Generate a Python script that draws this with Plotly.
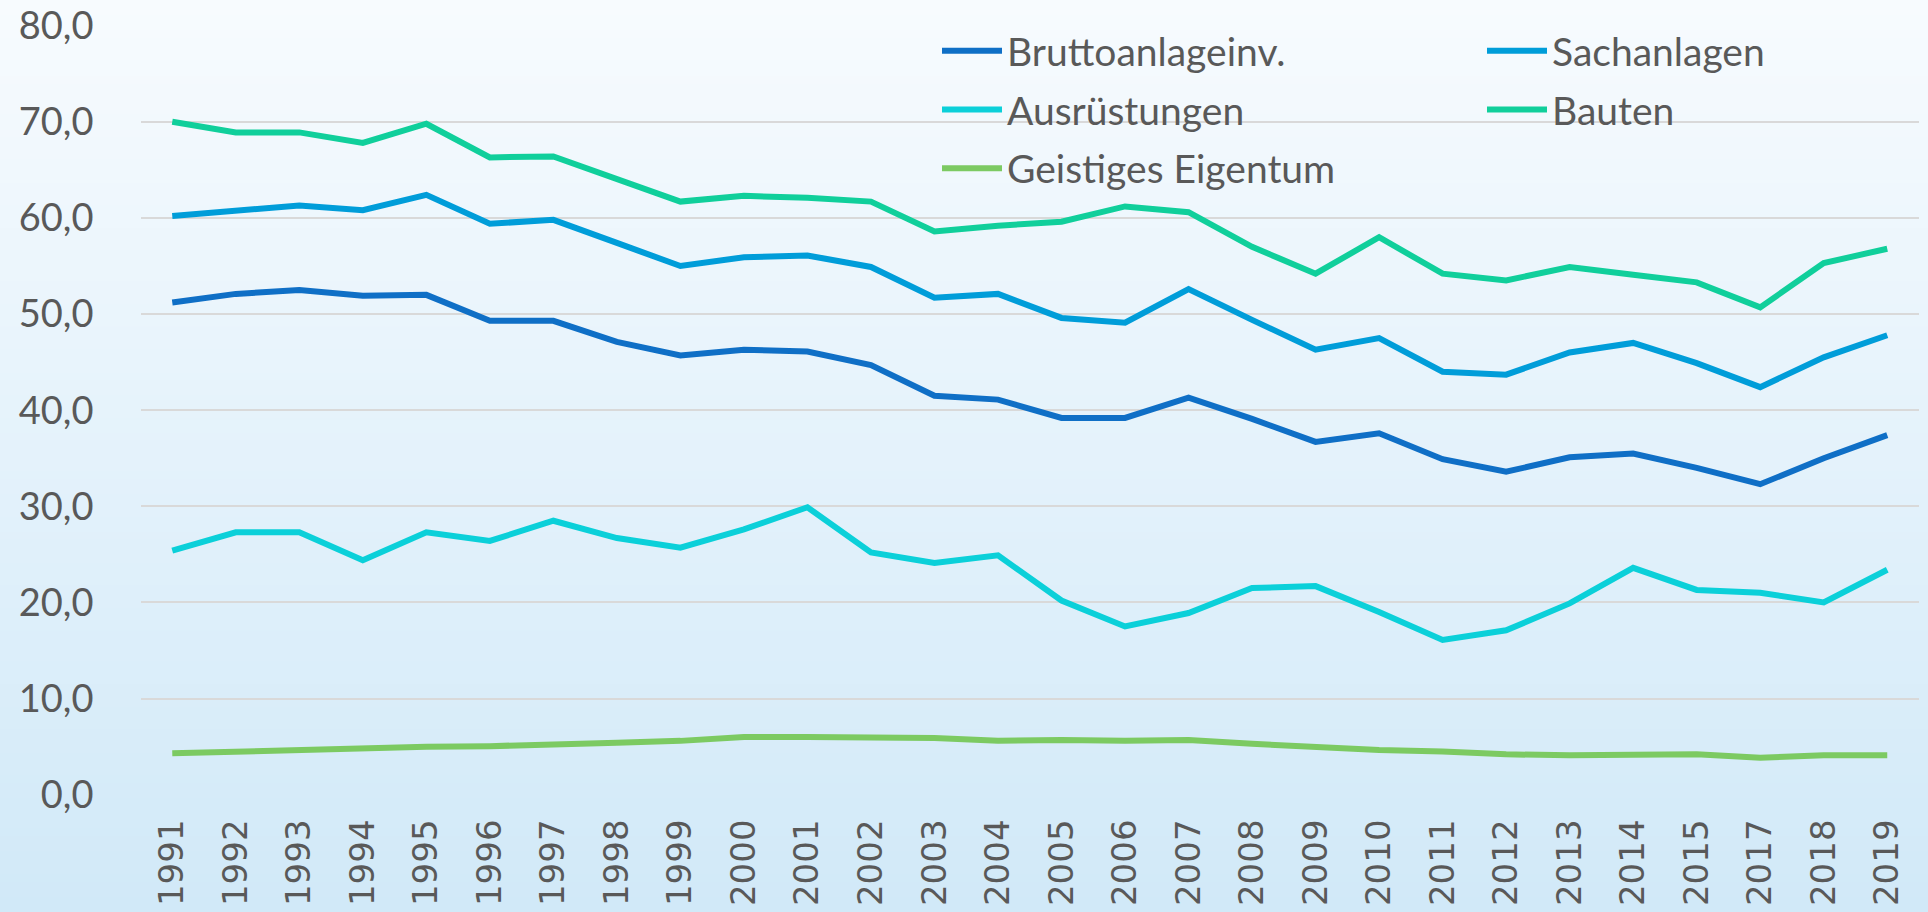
import plotly.graph_objects as go

years = ["1991", "1992", "1993", "1994", "1995", "1996", "1997", "1998", "1999", "2000",
         "2001", "2002", "2003", "2004", "2005", "2006", "2007", "2008", "2009", "2010",
         "2011", "2012", "2013", "2014", "2015", "2017", "2018", "2019"]

bruttoanlageinv = [51.2, 52.1, 52.5, 51.9, 52.0, 49.3, 49.3, 47.1, 45.7, 46.3,
                   46.1, 44.7, 41.5, 41.1, 39.2, 39.2, 41.3, 39.1, 36.7, 37.6,
                   34.9, 33.6, 35.1, 35.5, 34.0, 32.3, 35.0, 37.4]
sachanlagen = [60.2, 60.7, 61.3, 60.8, 62.4, 59.4, 59.8, 57.4, 55.0, 55.9,
               56.1, 54.9, 51.7, 52.1, 49.6, 49.1, 52.6, 49.4, 46.3, 47.5,
               44.0, 43.7, 46.0, 47.0, 44.9, 42.4, 45.5, 47.8]
ausruestungen = [25.4, 27.3, 27.3, 24.4, 27.3, 26.4, 28.5, 26.7, 25.7, 27.6,
                 29.9, 25.2, 24.1, 24.9, 20.2, 17.5, 18.9, 21.5, 21.7, 19.0,
                 16.1, 17.1, 19.9, 23.6, 21.3, 21.0, 20.0, 23.4]
bauten = [70.0, 68.9, 68.9, 67.8, 69.8, 66.3, 66.4, 64.0, 61.7, 62.3,
          62.1, 61.7, 58.6, 59.2, 59.6, 61.2, 60.6, 57.0, 54.2, 58.0,
          54.2, 53.5, 54.9, 54.1, 53.3, 50.7, 55.3, 56.8]
geistiges_eigentum = [4.3, 4.5, 4.75, 4.85, 5.0, 5.05, 5.3, 5.4, 5.6, 6.0,
                      6.0, 6.0, 5.9, 5.6, 5.7, 5.6, 5.7, 5.3, 4.9, 4.65,
                      4.5, 4.2, 4.1, 4.2, 4.2, 3.85, 4.1, 4.1]

series = [
    ("Bruttoanlageinv.", bruttoanlageinv, "#0F6FC6", "legend"),
    ("Sachanlagen", sachanlagen, "#009DD9", "legend2"),
    ("Ausrüstungen", ausruestungen, "#0BD0D9", "legend"),
    ("Bauten", bauten, "#10CF9B", "legend2"),
    ("Geistiges Eigentum", geistiges_eigentum, "#7CCA62", "legend"),
]

W, H = 1928, 912
TEXT = "#595959"

fig = go.Figure()
for name, vals, color, leg in series:
    fig.add_trace(go.Scatter(
        x=years, y=vals, name=name, mode="lines",
        line=dict(color=color, width=6),
        legend=leg, legendgroup=name,
    ))

# vertical background gradient
top = (247, 251, 254)
bot = (209, 233, 248)
n = 120
shapes = []
for i in range(n):
    t = i / (n - 1)
    c = tuple(round(top[k] + (bot[k] - top[k]) * t) for k in range(3))
    shapes.append(dict(
        type="rect", xref="paper", yref="paper",
        x0=0, x1=1, y0=1 - (i + 1) / n - 0.002, y1=1 - i / n,
        fillcolor="rgb(%d,%d,%d)" % c, line=dict(width=0), layer="below",
    ))

legend_common = dict(
    font=dict(family="Lato", size=39, color=TEXT),
    bgcolor="rgba(0,0,0,0)", borderwidth=0,
    orientation="v", tracegroupgap=5, itemwidth=60,
    xanchor="left", yanchor="top", xref="paper", yref="paper",
)

fig.update_layout(
    template="none",
    width=W, height=H, autosize=False,
    margin=dict(l=0, r=0, t=0, b=0, pad=0, autoexpand=False),
    paper_bgcolor="rgb(209,233,248)", plot_bgcolor="rgba(0,0,0,0)",
    separators=",.",
    shapes=shapes,
    showlegend=True,
    legend=dict(x=937 / W, y=1 - 19 / H, **legend_common),
    legend2=dict(x=1482 / W, y=1 - 19 / H, **legend_common),
    xaxis=dict(
        type="category", categoryorder="array", categoryarray=years,
        domain=[140.5 / W, 1919 / W], range=[-0.5, len(years) - 0.5],
        tickangle=-90, ticks="", showgrid=False, showline=False, zeroline=False,
        tickfont=dict(family="DejaVu Sans", size=34, color=TEXT),
        ticklabelstandoff=17, automargin=False,
    ),
    yaxis=dict(
        range=[0, 80], dtick=10, tickformat=".1f",
        domain=[(H - 794.7) / H, (H - 25.7) / H],
        showgrid=True, gridcolor="#D9D9D9", gridwidth=2,
        zeroline=False, showline=False, ticks="",
        tickfont=dict(family="Lato", size=38, color=TEXT),
        ticklabelstandoff=46, automargin=False,
    ),
)

fig.write_html("out.html", config={"displayModeBar": False},
               post_script="document.body.style.margin='0';document.body.style.overflow='hidden';")
